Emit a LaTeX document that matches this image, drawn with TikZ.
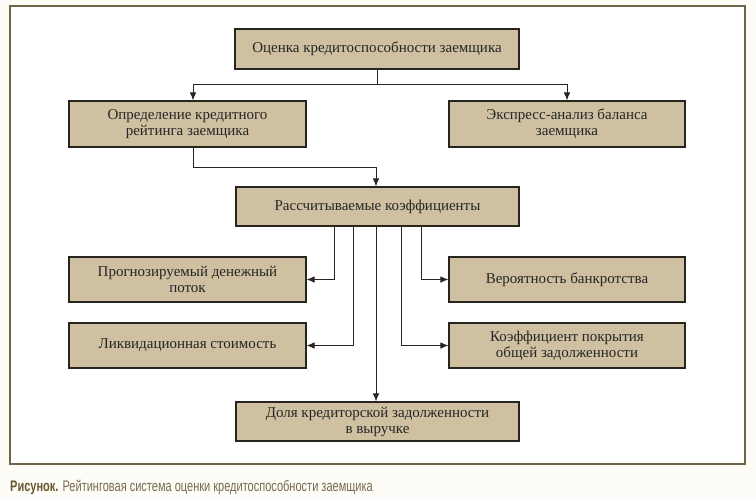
\documentclass[tikz,border=0pt]{standalone}
\usepackage{fontspec}
\setmainfont{Liberation Serif}
\newfontfamily\capfont[FakeStretch=0.72]{Liberation Sans}
\usetikzlibrary{arrows.meta}
\definecolor{boxfill}{RGB}{206,192,160}
\definecolor{boxline}{RGB}{40,36,30}
\definecolor{framecol}{RGB}{112,100,72}
\definecolor{pagebg}{RGB}{253,252,246}
\definecolor{capbold}{RGB}{105,88,45}
\definecolor{captext}{RGB}{120,106,80}
\tikzset{
  boxnode/.style={draw=boxline, line width=1.1pt, fill=boxfill, align=center,
    inner sep=2pt, font=\fontsize{15}{16}\selectfont, text=black!85},
  arr/.style={draw=boxline, line width=0.9pt, -{Latex[length=8pt,width=6.5pt]}},
  ln/.style={draw=boxline, line width=0.9pt}
}
\begin{document}
\begin{tikzpicture}[x=1pt,y=-1pt]
\useasboundingbox (0,0) rectangle (756,498);
\fill[pagebg] (0,0) rectangle (756,498);
\draw[framecol, line width=1.3pt, fill=white] (10,6) rectangle (745,464);

\node[boxnode, minimum width=284pt, minimum height=40pt] (top) at (377,49) {Оценка кредитоспособности заемщика};
\node[boxnode, minimum width=237pt, minimum height=46pt] (left) at (187.5,124) {Определение кредитного\\рейтинга заемщика};
\node[boxnode, minimum width=236pt, minimum height=46pt] (right) at (567,124) {Экспресс-анализ баланса\\заемщика};
\node[boxnode, minimum width=283pt, minimum height=39pt] (koefs) at (377.5,206.5) {Рассчитываемые коэффициенты};
\node[boxnode, minimum width=237pt, minimum height=45pt] (prog) at (187.5,279.5) {Прогнозируемый денежный\\поток};
\node[boxnode, minimum width=236pt, minimum height=45pt] (ver) at (567,279.5) {Вероятность банкротства};
\node[boxnode, minimum width=237pt, minimum height=45pt] (liq) at (187.5,345.5) {Ликвидационная стоимость};
\node[boxnode, minimum width=236pt, minimum height=45pt] (koef) at (567,345.5) {Коэффициент покрытия\\общей задолженности};
\node[boxnode, minimum width=283pt, minimum height=39pt] (dolya) at (377.5,421.5) {Доля кредиторской задолженности\\в выручке};

\coordinate (split) at (377,84);
\coordinate (j1) at (376,167);
\draw[ln] (top.south) -- (split);
\draw[arr] (split) -| ([xshift=5.5pt]left.north);
\draw[arr] (split) -| (right.north);
\draw[arr] ([xshift=5.5pt]left.south) |- (j1) -- (koefs.north -| j1);

\draw[arr] (koefs.south -| 334,0) |- (prog.east);
\draw[arr] (koefs.south -| 353,0) |- (liq.east);
\draw[arr] (koefs.south -| 376,0) -- (dolya.north -| 376,0);
\draw[arr] (koefs.south -| 401,0) |- (koef.west);
\draw[arr] (koefs.south -| 421,0) |- (ver.west);

\node[anchor=base west, inner sep=0pt, font=\capfont\fontsize{15.3}{16}\selectfont, text=captext] (cap) at (10,491)
  {\textcolor{capbold}{\bfseries Рисунок.} Рейтинговая система оценки кредитоспособности заемщика};
\end{tikzpicture}
\end{document}
